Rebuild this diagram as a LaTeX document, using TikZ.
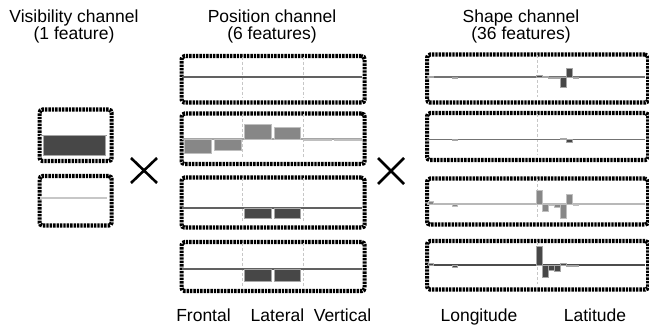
\documentclass[tikz,border=0pt]{standalone}
\usepackage{fontspec}
\setmainfont{Liberation Sans}
\begin{document}
\begin{tikzpicture}[x=1pt,y=-1pt,
  chan/.style={draw=black, line width=4.2pt, dash pattern=on 2.4pt off 1pt,
    rounded corners=3pt, rectangle, inner sep=0pt, anchor=north west},
  txt/.style={font=\fontsize{17.5}{17.5}\selectfont, inner sep=0pt, anchor=base},
  guide/.style={draw=black!22, line width=0.8pt, dash pattern=on 3pt off 2pt},
  axisline/.style={line width=1.2pt},
  cross/.style={line width=2.6pt, line cap=butt},
  darkbar/.style={fill=black!72, draw=black!35, line width=0.4pt},
  graybar/.style={fill=black!47, draw=black!25, line width=0.4pt}
]
\useasboundingbox (0,0) rectangle (649,331);

% ---- titles ----
\node[txt] (vt1) at (74,23) {Visibility channel};
\node[txt] (vt2) at (74,40) {(1 feature)};
\node[txt] (pt1) at (272,23) {Position channel};
\node[txt] (pt2) at (272,40) {(6 features)};
\node[txt] (st1) at (521,23) {Shape channel};
\node[txt] (st2) at (521,40) {(36 features)};

% ---- visibility channel ----
\node[chan, minimum width=72pt, minimum height=51.5pt] (vis1) at (37.5,107.5) {};
\node[chan, minimum width=72pt, minimum height=49.5pt] (vis2) at (37.5,174) {};
\draw[axisline, black!40] (40,135.5) -- (107,135.5);
\fill[darkbar] (43,135.5) rectangle (105,155);
\draw[axisline, black!22] (40,198) -- (107,198);

% ---- multiplication signs ----
\coordinate (xa1) at (131,158); \coordinate (xa2) at (157,183);
\coordinate (xa3) at (131,183); \coordinate (xa4) at (157,158);
\draw[cross] (xa1) -- (xa2); \draw[cross] (xa3) -- (xa4);
\coordinate (xb1) at (378,158); \coordinate (xb2) at (404,184);
\coordinate (xb3) at (378,184); \coordinate (xb4) at (404,158);
\draw[cross] (xb1) -- (xb2); \draw[cross] (xb3) -- (xb4);

% ---- position channel ----
\node[chan, minimum width=183pt, minimum height=46.5pt] (pos1) at (179.5,54) {};
\node[chan, minimum width=183pt, minimum height=50.5pt] (pos2) at (179.5,111.5) {};
\node[chan, minimum width=183pt, minimum height=50pt]   (pos3) at (179.5,175.5) {};
\node[chan, minimum width=183pt, minimum height=49pt]   (pos4) at (179.5,240) {};
\foreach \t/\b in {54/100.5, 111.5/162, 175.5/225.5, 240/289} {
  \draw[guide] (242,\t+3) -- (242,\b-3);
  \draw[guide] (303,\t+3) -- (303,\b-3);
}
\draw[axisline, black!62] (182,77) -- (362,77);
\draw[axisline, black!35] (182,139) -- (362,139);
\fill[graybar] (184,139) rectangle (211,153);
\fill[graybar] (214,139) rectangle (241,150);
\fill[graybar] (244,139) rectangle (271,124);
\fill[graybar] (274,139) rectangle (300,127);
\fill[graybar] (303,139) rectangle (331,140.5);
\fill[graybar] (334,139) rectangle (361,140.5);
\draw[axisline, black!62] (182,208) -- (362,208);
\fill[darkbar] (244,208) rectangle (271,218);
\fill[darkbar] (274,208) rectangle (300,218);
\draw[axisline, black!62] (182,269) -- (362,269);
\fill[darkbar] (244,269) rectangle (271,281);
\fill[darkbar] (274,269) rectangle (300,281);

% ---- shape channel ----
\node[chan, minimum width=221pt, minimum height=48pt]   (shp1) at (425,52.5) {};
\node[chan, minimum width=221pt, minimum height=47pt]   (shp2) at (425,111) {};
\node[chan, minimum width=221pt, minimum height=46pt]   (shp3) at (425,176.5) {};
\node[chan, minimum width=221pt, minimum height=48.5pt] (shp4) at (425,239) {};
\foreach \t/\b in {52.5/100.5, 111/158, 176.5/222.5, 239/287.5}
  \draw[guide] (537,\t+3) -- (537,\b-3);
\def\bw{6.03}
% longitude bins 0-17, latitude bins 18-35
\draw[axisline, black!55] (427,77) -- (645,77);
\foreach \i/\v in {0/76, 4/78.2, 18/75.6, 19/76.3, 20/78.3, 21/78, 22/87, 23/68, 24/77.8}
  \fill[darkbar] ({428+\i*\bw},77) rectangle ({428+(\i+1)*\bw-0.8},\v);
\draw[axisline, black!55] (427,139.5) -- (645,139.5);
\foreach \i/\v in {4/140.6, 22/138.3, 23/142}
  \fill[darkbar] ({428+\i*\bw},139.5) rectangle ({428+(\i+1)*\bw-0.8},\v);
\draw[axisline, black!28] (427,204) -- (645,204);
\foreach \i/\v in {0/201.5, 4/206.5, 18/190, 19/211, 20/205, 21/207, 22/218, 23/194.5, 24/204.9}
  \fill[graybar] ({428+\i*\bw},204) rectangle ({428+(\i+1)*\bw-0.8},\v);
\draw[axisline, black!70] (427,265) -- (645,265);
\foreach \i/\v in {0/263, 4/267, 18/246, 19/277, 20/270, 21/271.5, 22/263, 23/266, 24/266}
  \fill[darkbar] ({428+\i*\bw},265) rectangle ({428+(\i+1)*\bw-0.8},\v);

% ---- axis names ----
\node[txt] (fr) at (203.5,322) {Frontal};
\node[txt] (la) at (277.5,322) {Lateral};
\node[txt] (ve) at (342.5,322) {Vertical};
\node[txt] (lo) at (479,322) {Longitude};
\node[txt] (lt) at (595,322) {Latitude};
\end{tikzpicture}
\end{document}
